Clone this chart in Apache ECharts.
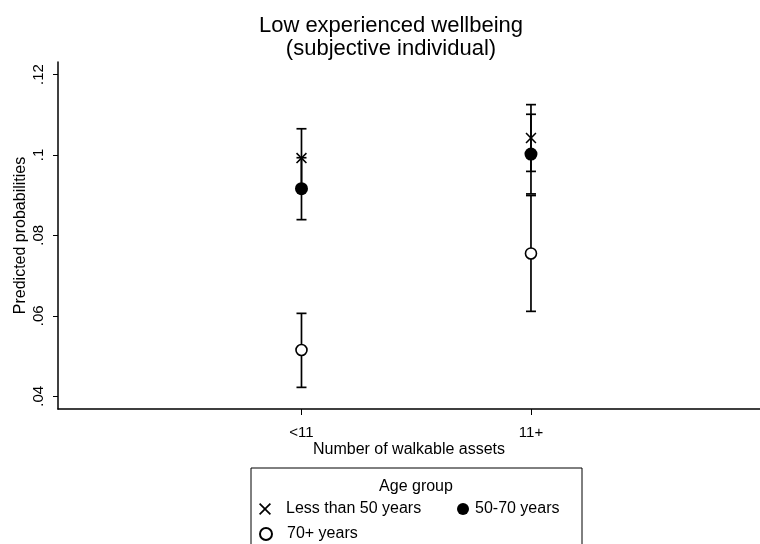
<!DOCTYPE html>
<html>
<head>
<meta charset="utf-8">
<script src="https://cdn.jsdelivr.net/npm/echarts@6/dist/echarts.min.js"></script>
<style>html,body{margin:0;padding:0;background:#fff;}#c{width:760px;height:544px;}</style>
</head>
<body>
<div id="c"></div>
<script>
var categories = ['<11', '11+'];
var yTicks = [0.04, 0.06, 0.08, 0.1, 0.12];
var seriesNames = ['Less than 50 years', '50-70 years', '70+ years'];
var under50 = [0.0992, 0.1042];
var under50Lo = [0.0919, 0.0959];
var under50Hi = [0.1065, 0.1125];
var mid5070 = [0.0916, 0.1002];
var mid5070Lo = [0.0839, 0.0903];
var mid5070Hi = [0.0993, 0.1101];
var over70 = [0.0515, 0.0755];
var over70Lo = [0.0422, 0.0611];
var over70Hi = [0.0606, 0.0899];

var FONT = '"Liberation Sans", Arial, sans-serif';
var crossPath = 'path://M0,1 L1,0 L5,4 L9,0 L10,1 L6,5 L10,9 L9,10 L5,6 L1,10 L0,9 L4,5 Z';

function pts(vals) { return vals.map(function (v, i) { return [i, v]; }); }
function bars(lo, hi) { return lo.map(function (v, i) { return [i, v, hi[i]]; }); }

function renderErr(params, api) {
  var x = api.value(0);
  var p1 = api.coord([x, api.value(1)]);
  var p2 = api.coord([x, api.value(2)]);
  var hw = 5;
  var st = { stroke: '#000', lineWidth: 1.7 };
  return {
    type: 'group',
    children: [
      { type: 'line', shape: { x1: p1[0], y1: p1[1], x2: p2[0], y2: p2[1] }, style: st },
      { type: 'line', shape: { x1: p1[0] - hw, y1: p1[1], x2: p1[0] + hw, y2: p1[1] }, style: st },
      { type: 'line', shape: { x1: p2[0] - hw, y1: p2[1], x2: p2[0] + hw, y2: p2[1] }, style: st }
    ]
  };
}

function errSeries(lo, hi) {
  return { type: 'custom', renderItem: renderErr, data: bars(lo, hi), z: 1, silent: true,
    encode: { x: 0, y: [1, 2] } };
}

function legendAt(name, left, top, pad) {
  return { data: [name], left: left, top: top, padding: 0, itemWidth: 12, itemHeight: 12,
    textStyle: { fontFamily: FONT, fontSize: 16, color: '#000', padding: [0, 0, 0, pad] }, selectedMode: false };
}

var chart = echarts.init(document.getElementById('c'), null, { renderer: 'canvas' });
chart.setOption({
  backgroundColor: '#fff',
  animation: false,
  title: {
    text: 'Low experienced wellbeing\n(subjective individual)',
    left: 391, top: 14, padding: 0, textAlign: 'center',
    textStyle: { fontFamily: FONT, fontSize: 22, fontWeight: 'normal', color: '#000', lineHeight: 23 }
  },
  grid: { left: 58, right: 0, top: 62, bottom: 135, containLabel: false, outerBoundsMode: 'none' },
  xAxis: {
    type: 'value', min: -1.061, max: 1.998,
    name: 'Number of walkable assets', nameLocation: 'middle', nameGap: 33, nameMoveOverlap: false,
    nameTextStyle: { fontFamily: FONT, fontSize: 16, color: '#000' },
    axisLine: { show: true, onZero: false, lineStyle: { color: '#000', width: 1.5 } },
    axisTick: { show: true, length: 6, customValues: [0, 1], lineStyle: { color: '#000', width: 1 } },
    axisLabel: { customValues: [0, 1], margin: 16, fontFamily: FONT, fontSize: 15, color: '#000',
      formatter: function (v) { return categories[Math.round(v)]; } },
    splitLine: { show: false }
  },
  yAxis: {
    type: 'value', min: 0.03682, max: 0.1231,
    name: 'Predicted probabilities', nameLocation: 'middle', nameGap: 29, nameRotate: 90, nameMoveOverlap: false,
    nameTextStyle: { fontFamily: FONT, fontSize: 16, color: '#000' },
    axisLine: { show: true, onZero: false, lineStyle: { color: '#000', width: 1.5 } },
    axisTick: { show: true, length: 5, customValues: yTicks, lineStyle: { color: '#000', width: 1 } },
    axisLabel: { customValues: yTicks, rotate: 90, margin: 12, fontFamily: FONT, fontSize: 15, color: '#000',
      formatter: function (v) { return String(+v.toFixed(2)).replace(/^0/, ''); } },
    splitLine: { show: false }
  },
  legend: [
    legendAt(seriesNames[0], 259, 501, 10),
    legendAt(seriesNames[1], 457, 501, 1),
    legendAt(seriesNames[2], 259, 526, 10)
  ],
  graphic: [
    { type: 'rect', shape: { x: 251, y: 468, width: 331, height: 100 }, style: { fill: 'none', stroke: '#000', lineWidth: 1 }, z: 10 },
    { type: 'text', x: 416, y: 487, style: { text: 'Age group', fontFamily: FONT, fontSize: 16, fill: '#000', textAlign: 'center', textVerticalAlign: 'middle' }, z: 10 }
  ],
  series: [
    errSeries(under50Lo, under50Hi),
    errSeries(mid5070Lo, mid5070Hi),
    errSeries(over70Lo, over70Hi),
    { name: seriesNames[0], type: 'scatter', data: pts(under50), symbol: crossPath, symbolSize: 11, z: 3,
      itemStyle: { color: '#000', opacity: 1 } },
    { name: seriesNames[1], type: 'scatter', data: pts(mid5070), symbol: 'circle', symbolSize: 13, z: 3,
      itemStyle: { color: '#000', opacity: 1 } },
    { name: seriesNames[2], type: 'scatter', data: pts(over70), symbol: 'circle', symbolSize: 11, z: 3,
      itemStyle: { color: '#fff', borderColor: '#000', borderWidth: 1.6, opacity: 1 } }
  ]
});
</script>
</body>
</html>
